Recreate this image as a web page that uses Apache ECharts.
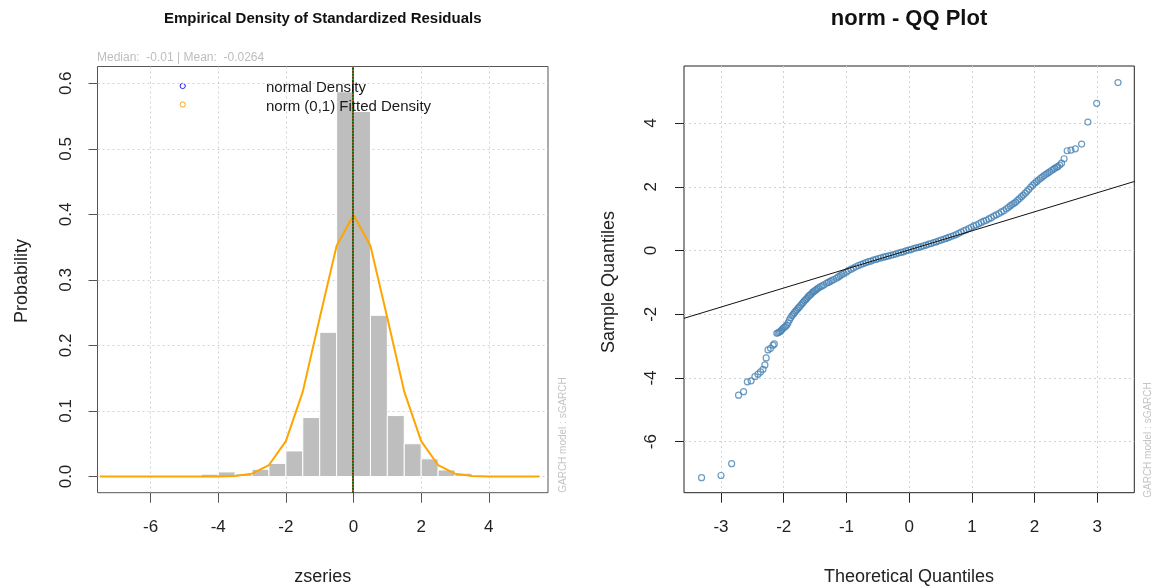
<!DOCTYPE html>
<html>
<head>
<meta charset="utf-8">
<script src="https://cdn.jsdelivr.net/npm/echarts@6/dist/echarts.min.js"></script>
<style>html,body{margin:0;padding:0;background:#fff}#chart{width:1156px;height:588px}</style>
</head>
<body>
<div id="chart"></div>
<script>
// ---------- Left panel: empirical density ----------
const histBinStart = [-4.5,-4.0,-3.5,-3.0,-2.5,-2.0,-1.5,-1.0,-0.5,0.0,0.5,1.0,1.5,2.0,2.5,3.0];
const histBinEnd   = [-4.0,-3.5,-3.0,-2.5,-2.0,-1.5,-1.0,-0.5,0.0,0.5,1.0,1.5,2.0,2.5,3.0,3.5];
const histDensity  = [0.0036,0.007,0.004,0.011,0.020,0.039,0.090,0.220,0.587,0.557,0.246,0.093,0.050,0.027,0.010,0.005];
const fittedX = [-7.5,-7.0,-6.5,-6.0,-5.5,-5.0,-4.5,-4.0,-3.5,-3.0,-2.5,-2.0,-1.5,-1.0,-0.5,0.0,0.5,1.0,1.5,2.0,2.5,3.0,3.5,4.0,4.5,5.0,5.5];
const fittedY = [0,0,0,0,0,0,0,0.0001,0.0009,0.0044,0.0175,0.054,0.1295,0.242,0.352,0.399,0.352,0.242,0.1295,0.054,0.0175,0.0044,0.0009,0.0001,0,0,0];
const medianValue = -0.01;
const meanValue = -0.0264;
const densityXTicks = [-6,-4,-2,0,2,4];
const densityYTicks = [0,0.1,0.2,0.3,0.4,0.5,0.6];

// ---------- Right panel: QQ plot ----------
const qqTheoretical = [
-3.31,-3.00,-2.83,-2.72,-2.64,-2.58,-2.52,-2.46,-2.41,-2.37,-2.33,-2.30,-2.28,-2.25,-2.21,-2.17,-2.15,
-2.11,-2.09,-2.07,-2.05,-2.03,-2.01,-1.99,-1.97,-1.95,-1.93,-1.91,-1.89,-1.87,-1.85,-1.83,-1.81,-1.79,-1.77,-1.75,-1.73,-1.71,-1.69,-1.67,-1.65,-1.63,-1.61,-1.59,-1.57,-1.55,-1.53,-1.51,-1.49,-1.47,-1.45,-1.42,-1.39,-1.36,-1.32,-1.29,-1.26,-1.23,-1.20,-1.16,-1.13,-1.10,-1.07,-1.04,-1.00,
-0.97,-0.93,-0.89,-0.85,-0.81,-0.77,-0.73,-0.69,-0.65,-0.61,-0.57,-0.53,-0.49,-0.45,-0.41,-0.37,-0.33,-0.29,-0.25,-0.21,-0.17,-0.13,-0.09,-0.05,-0.01,
0.03,0.07,0.11,0.15,0.19,0.23,0.27,0.31,0.35,0.39,0.43,0.47,0.51,0.55,0.59,0.63,0.67,0.71,0.75,0.79,0.83,0.87,0.91,0.95,0.99,
1.03,1.07,1.11,1.15,1.19,1.23,1.27,1.31,1.35,1.39,1.43,1.47,1.51,1.55,1.58,1.61,1.64,1.67,1.70,1.73,1.76,1.79,1.82,1.85,1.88,1.91,1.94,1.97,
2.00,2.03,2.06,2.09,2.12,2.15,2.18,2.21,2.24,2.27,2.30,2.32,2.35,2.37,2.40,2.43,
2.47,2.52,2.58,2.65,2.75,2.85,2.99,3.33];
const qqSample = [
-7.13,-7.06,-6.69,-4.54,-4.43,-4.12,-4.09,-3.96,-3.88,-3.81,-3.73,-3.59,-3.37,-3.12,-3.07,-2.97,-2.93,
-2.60,-2.58,-2.56,-2.53,-2.49,-2.44,-2.41,-2.38,-2.34,-2.27,-2.18,-2.11,-2.05,-2.00,-1.95,-1.90,-1.86,-1.81,-1.77,-1.72,-1.67,-1.63,-1.58,-1.54,-1.50,-1.45,-1.41,-1.38,-1.34,-1.30,-1.27,-1.24,-1.21,-1.18,-1.14,-1.11,-1.08,-1.03,-1.00,-0.97,-0.94,-0.91,-0.87,-0.83,-0.79,-0.75,-0.72,-0.68,
-0.63,-0.59,-0.55,-0.51,-0.47,-0.44,-0.41,-0.38,-0.35,-0.33,-0.30,-0.28,-0.25,-0.23,-0.21,-0.19,-0.17,-0.15,-0.13,-0.11,-0.08,-0.06,-0.04,-0.01,0.01,
0.03,0.06,0.08,0.10,0.12,0.15,0.17,0.20,0.22,0.25,0.27,0.30,0.33,0.35,0.38,0.41,0.44,0.47,0.50,0.54,0.58,0.62,0.65,0.69,0.73,
0.77,0.80,0.84,0.88,0.92,0.95,0.99,1.03,1.08,1.12,1.16,1.21,1.25,1.31,1.35,1.40,1.44,1.48,1.52,1.58,1.63,1.69,1.74,1.80,1.86,1.92,1.99,2.05,
2.11,2.16,2.21,2.26,2.30,2.35,2.39,2.43,2.47,2.51,2.55,2.58,2.61,2.63,2.68,2.74,
2.88,3.13,3.15,3.19,3.34,4.03,4.62,5.27];
const qqLineX = [-3.59, 3.59];
const qqLineY = [-2.128, 2.166];
const qqXTicks = [-3,-2,-1,0,1,2,3];
const qqYTicks = [-6,-4,-2,0,2,4];

// axis limits (R style 4% extension)
const densXMin = -7.57, densXMax = 5.75;
const densYMin = -0.0247, densYMax = 0.6256;
const qqXMin = -3.59, qqXMax = 3.59;
const qqYMin = -7.60, qqYMax = 5.79;

const FONT = "'Liberation Sans', Arial, sans-serif";
const chart = echarts.init(document.getElementById('chart'), null, {renderer: 'canvas'});

const histData = histBinStart.map((s, i) => [s, histBinEnd[i], histDensity[i]]);
const fittedData = fittedX.map((x, i) => [x, fittedY[i]]);
const qqData = qqTheoretical.map((x, i) => [x, qqSample[i]]);
const qqLineData = qqLineX.map((x, i) => [x, qqLineY[i]]);

const gridLine = {show: true, lineStyle: {color: '#d3d3d3', width: 1, type: [2, 3]}};

function makeAxis(gridIndex, min, max, ticks, tickColor, isY, fmt, margin) {
  return {
    type: 'value', gridIndex, min, max,
    axisLine: {show: false, onZero: false},
    axisTick: {show: true, inside: false, customValues: ticks, length: isY ? 9 : 10, lineStyle: {color: tickColor, width: 1}},
    axisLabel: {show: true, customValues: ticks, fontSize: 17, fontFamily: FONT, color: '#222',
      margin, rotate: isY ? 90 : 0, formatter: fmt},
    splitLine: gridLine
  };
}

const option = {
  animation: false,
  backgroundColor: '#fff',
  grid: [
    {left: 97.5, top: 66.5, width: 450.5, height: 426.2, show: true, borderColor: '#555', borderWidth: 1, backgroundColor: 'transparent'},
    {left: 684, top: 66, width: 450.3, height: 426.7, show: true, borderColor: '#222', borderWidth: 1, backgroundColor: 'transparent'}
  ],
  xAxis: [
    makeAxis(0, densXMin, densXMax, densityXTicks, '#555', false, v => String(v), 26),
    makeAxis(1, qqXMin, qqXMax, qqXTicks, '#222', false, v => String(v), 26)
  ],
  yAxis: [
    makeAxis(0, densYMin, densYMax, densityYTicks, '#555', true, v => v.toFixed(1), 23),
    makeAxis(1, qqYMin, qqYMax, qqYTicks, '#222', true, v => String(v), 24)
  ],
  series: [
    {
      type: 'custom', xAxisIndex: 0, yAxisIndex: 0, data: histData, clip: true, z: 2,
      encode: {x: [0, 1], y: 2},
      renderItem: function (params, api) {
        const p0 = api.coord([api.value(0), api.value(2)]);
        const p1 = api.coord([api.value(1), 0]);
        return {type: 'rect', shape: {x: p0[0], y: p0[1], width: p1[0] - p0[0], height: p1[1] - p0[1]},
          style: {fill: '#bebebe', stroke: '#ffffff', lineWidth: 1}};
      }
    },
    {
      type: 'line', xAxisIndex: 0, yAxisIndex: 0, data: fittedData, symbol: 'none', z: 3,
      lineStyle: {color: '#ffa500', width: 2}, silent: true,
      markLine: {
        silent: true, symbol: 'none', label: {show: false}, animation: false,
        data: [
          {xAxis: meanValue, lineStyle: {color: '#e8231e', width: 1.5, type: 'solid'}},
          {xAxis: medianValue, lineStyle: {color: '#0b6b0b', width: 2, type: [2, 1]}}
        ]
      }
    },
    {
      type: 'scatter', xAxisIndex: 1, yAxisIndex: 1, data: qqData, symbol: 'circle', symbolSize: 6, z: 3,
      itemStyle: {color: 'rgba(0,0,0,0)', borderColor: '#4682b4', borderWidth: 1.2}, silent: true
    },
    {
      type: 'line', xAxisIndex: 1, yAxisIndex: 1, data: qqLineData, symbol: 'none', z: 4,
      lineStyle: {color: '#111', width: 1}, silent: true
    }
  ],
  graphic: [
    {type: 'text', x: 322.7, y: 19, style: {text: 'Empirical Density of Standardized Residuals', font: 'bold 15px ' + FONT, fill: '#111', align: 'center', verticalAlign: 'middle'}},
    {type: 'text', x: 909, y: 19, style: {text: 'norm - QQ Plot', font: 'bold 22px ' + FONT, fill: '#111', align: 'center', verticalAlign: 'middle'}},
    {type: 'text', x: 97, y: 58, style: {text: 'Median:  -0.01 | Mean:  -0.0264', font: '12px ' + FONT, fill: '#bdbdbd', align: 'left', verticalAlign: 'middle'}},
    {type: 'circle', shape: {cx: 182.7, cy: 86, r: 2.6}, style: {fill: 'none', stroke: '#2020ff', lineWidth: 1}},
    {type: 'circle', shape: {cx: 182.7, cy: 104.5, r: 2.6}, style: {fill: 'none', stroke: '#ffa500', lineWidth: 1}},
    {type: 'text', x: 266, y: 88, z: 10, style: {text: 'normal Density', font: '15px ' + FONT, fill: '#1a1a1a', align: 'left', verticalAlign: 'middle'}},
    {type: 'text', x: 266, y: 107, z: 10, style: {text: 'norm (0,1) Fitted Density', font: '15px ' + FONT, fill: '#1a1a1a', align: 'left', verticalAlign: 'middle'}},
    {type: 'text', x: 22, y: 281, rotation: Math.PI / 2, style: {text: 'Probability', font: '18px ' + FONT, fill: '#222', align: 'center', verticalAlign: 'middle'}},
    {type: 'text', x: 322.7, y: 577, style: {text: 'zseries', font: '18px ' + FONT, fill: '#222', align: 'center', verticalAlign: 'middle'}},
    {type: 'text', x: 609, y: 282, rotation: Math.PI / 2, style: {text: 'Sample Quantiles', font: '18px ' + FONT, fill: '#222', align: 'center', verticalAlign: 'middle'}},
    {type: 'text', x: 909, y: 577, style: {text: 'Theoretical Quantiles', font: '18px ' + FONT, fill: '#222', align: 'center', verticalAlign: 'middle'}},
    {type: 'text', x: 563, y: 435, rotation: Math.PI / 2, style: {text: 'GARCH model : sGARCH', font: '10px ' + FONT, fill: '#c4c4c4', align: 'center', verticalAlign: 'middle'}},
    {type: 'text', x: 1148, y: 440, rotation: Math.PI / 2, style: {text: 'GARCH model : sGARCH', font: '10px ' + FONT, fill: '#c4c4c4', align: 'center', verticalAlign: 'middle'}}
  ]
};
chart.setOption(option);
</script>
</body>
</html>
